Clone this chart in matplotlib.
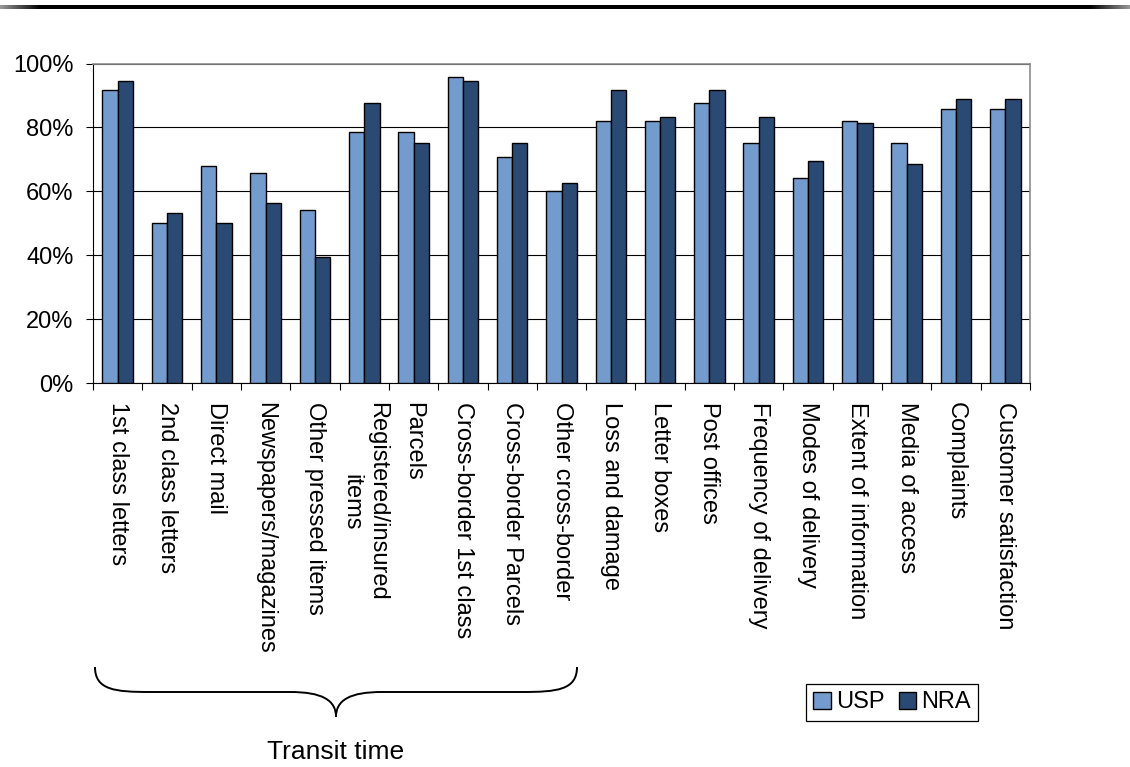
import matplotlib
matplotlib.use("Agg")
import matplotlib.pyplot as plt
import numpy as np
from matplotlib.path import Path
from matplotlib.patches import PathPatch
from matplotlib.ticker import FixedLocator, PercentFormatter

plt.rcParams['font.family'] = ['Liberation Sans', 'DejaVu Sans']

categories = ['1st class letters', '2nd class letters', 'Direct mail',
              'Newspapers/magazines', 'Other pressed items',
              'Registered/insured\nitems', 'Parcels', 'Cross-border 1st class',
              'Cross-border Parcels', 'Other cross-border', 'Loss and damage',
              'Letter boxes', 'Post offices', 'Frequency of delivery',
              'Modes of delivery', 'Extent of information', 'Media of access',
              'Complaints', 'Customer satisfaction']
usp = [91.7, 50.0, 67.9, 65.6, 54.1, 78.6, 78.6, 95.9, 70.8, 60.0,
       82.1, 82.1, 87.5, 75.0, 64.3, 82.1, 75.0, 85.7, 85.7]
nra = [94.4, 53.1, 50.0, 56.3, 39.3, 87.5, 75.0, 94.4, 75.0, 62.5,
       91.7, 83.3, 91.7, 83.3, 69.5, 81.3, 68.7, 88.9, 88.9]
series_names = ['USP', 'NRA']
group_label = 'Transit time'

USP_COLOR = '#739BCD'
NRA_COLOR = '#2A4A73'
FS = 17

fig = plt.figure(figsize=(11.3, 7.67), dpi=100)
ax = fig.add_axes([93 / 1130, 1 - 383 / 767, (1030 - 93) / 1130, (383 - 63.5) / 767])

x = np.arange(len(categories))
w = 0.31
ax.bar(x - w / 2, usp, w, color=USP_COLOR, edgecolor='black', linewidth=1, label=series_names[0], zorder=3)
ax.bar(x + w / 2, nra, w, color=NRA_COLOR, edgecolor='black', linewidth=1, label=series_names[1], zorder=3)

ax.set_xlim(-0.5, len(categories) - 0.5)
ax.set_ylim(0, 100)
ax.set_yticks(np.arange(0, 101, 20))
ax.yaxis.set_major_formatter(PercentFormatter(decimals=0))
ax.yaxis.grid(True, color='black', linewidth=0.8, zorder=0)
ax.set_axisbelow(True)

# labels under category centres, tick marks on the boundaries
ax.set_xticks(x)
ax.set_xticklabels(categories, rotation=-90, ha='center', va='top', multialignment='center')
ax.xaxis.set_minor_locator(FixedLocator(np.arange(-0.5, len(categories), 1.0)))
ax.tick_params(axis='x', which='major', length=0, pad=14, labelsize=FS)
ax.tick_params(axis='x', which='minor', length=5, width=0.8, direction='out')
ax.tick_params(axis='y', length=5, width=0.8, direction='out', pad=9, labelsize=FS)

for s in ['top', 'right']:
    ax.spines[s].set_color('#8c8c8c')
    ax.spines[s].set_linewidth(1.2)
for s in ['left', 'bottom']:
    ax.spines[s].set_color('black')
    ax.spines[s].set_linewidth(0.8)

leg = fig.legend(loc='center', bbox_to_anchor=(892 / 1130, 1 - 702.5 / 767), ncol=2,
                 fontsize=FS, handlelength=0.75, handleheight=0.75, handletextpad=0.2,
                 columnspacing=0.6, borderpad=0.3, fancybox=False, framealpha=1,
                 edgecolor='black')
leg.get_frame().set_linewidth(0.9)

# overlay in pixel units for the brace and the top rule
ov = fig.add_axes([0, 0, 1, 1], zorder=-1)
ov.set_xlim(0, 1130)
ov.set_ylim(767, 0)
ov.axis('off')

verts = [(95, 667), (95, 690), (115, 692), (150, 692),
         (290, 692),
         (322, 692), (336, 700), (336, 717),
         (336, 700), (350, 692), (382, 692),
         (522, 692),
         (557, 692), (577, 690), (577, 667)]
codes = [Path.MOVETO, Path.CURVE4, Path.CURVE4, Path.CURVE4,
         Path.LINETO,
         Path.CURVE4, Path.CURVE4, Path.CURVE4,
         Path.CURVE4, Path.CURVE4, Path.CURVE4,
         Path.LINETO,
         Path.CURVE4, Path.CURVE4, Path.CURVE4]
ov.add_patch(PathPatch(Path(verts, codes), facecolor='none', edgecolor='black', linewidth=1.4))
ov.text(336, 752, group_label, ha='center', va='center', fontsize=19)

# page rule along the top: black in the middle, grey towards both ends
px = np.arange(1130) + 0.5
shade = 0.6 * (1 - np.clip(np.minimum(px, 1130 - px) / 40, 0, 1))
ov.imshow(shade[np.newaxis, :], cmap='gray', vmin=0, vmax=1, aspect='auto',
          extent=(0, 1130, 9.2, 5.8), interpolation='nearest')
ov.set_xlim(0, 1130)
ov.set_ylim(767, 0)

fig.savefig('out.png', dpi=100)
